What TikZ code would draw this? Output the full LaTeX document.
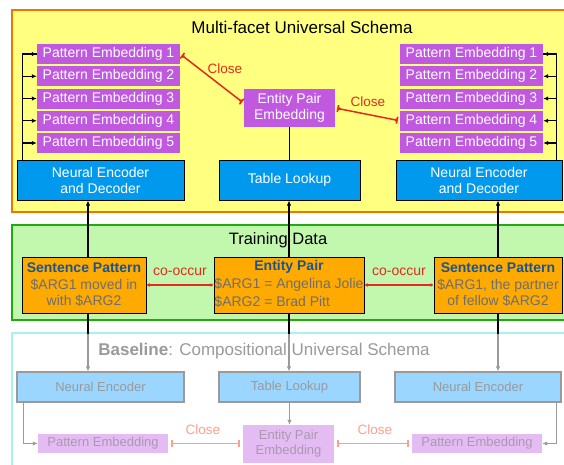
\documentclass[tikz,border=0pt]{standalone}
\usepackage{fontspec}
\setmainfont{Liberation Sans}
\usetikzlibrary{arrows.meta}

\definecolor{frameorange}{HTML}{EE7700}
\definecolor{frameyellow}{HTML}{FFFF80}
\definecolor{framegreen}{HTML}{22AA11}
\definecolor{fillgreen}{HTML}{C2F7AE}
\definecolor{framecyan}{HTML}{A6F3EC}
\definecolor{embpurple}{HTML}{C058E0}
\definecolor{encblue}{HTML}{0099EE}
\definecolor{boxorange}{HTML}{FFAA00}
\definecolor{titleblue}{HTML}{1A5590}
\definecolor{argray}{HTML}{6E6E6E}
\definecolor{closered}{HTML}{E8281E}
\definecolor{lightblue}{HTML}{9AD6FF}
\definecolor{lightpurple}{HTML}{E4BCF3}
\definecolor{basegray}{HTML}{9A9A9A}
\definecolor{pinkgray}{HTML}{A89AAE}
\definecolor{salmon}{HTML}{FFA08C}

\tikzset{
  >={Latex[length=5pt,width=4.5pt]},
  sectiontitle/.style={font=\fontsize{17}{19}\selectfont, inner sep=0pt},
  pattern/.style={fill=embpurple, text=white, font=\fontsize{14}{16}\selectfont,
    minimum width=143pt, minimum height=20pt, inner sep=0pt, align=center},
  encoder/.style={fill=encblue, draw=black, line width=1pt, text=white,
    font=\fontsize{14}{16}\selectfont, minimum width=167pt, minimum height=40pt,
    inner sep=0pt, align=center},
  sentence/.style={fill=boxorange, draw=black, line width=1pt, text=argray,
    font=\fontsize{14}{16.5}\selectfont, minimum height=56pt, inner sep=0pt, align=center},
  closeline/.style={draw=closered, line width=1.5pt, shorten <=2pt, shorten >=2pt,
    {Bar[width=7pt]Triangle[reversed,length=2pt,width=4pt]}-{Triangle[reversed,length=2pt,width=4pt]Bar[width=7pt]}},
  closelabel/.style={text=closered, font=\fontsize{13.5}{15}\selectfont, inner sep=0pt},
  cooccur/.style={draw=closered, line width=1.5pt,
    {Latex[length=3pt,width=4pt]}-{Latex[length=3pt,width=4pt]}},
  basebox/.style={fill=lightblue, draw=basegray, line width=1.2pt, text=basegray,
    font=\fontsize{13}{15}\selectfont, minimum width=167pt, minimum height=30pt, inner sep=0pt},
  baseemb/.style={fill=lightpurple, text=pinkgray, font=\fontsize{13}{15}\selectfont,
    minimum width=130pt, minimum height=19pt, inner sep=0pt, align=center},
  baseclose/.style={draw=salmon, line width=1.5pt, shorten <=3pt, shorten >=3pt,
    {Bar[width=7pt]}-{Bar[width=7pt]}},
  baselabel/.style={text=salmon, font=\fontsize{13.5}{15}\selectfont, inner sep=0pt},
  basearrow/.style={draw=basegray, line width=1.2pt, ->, >={Latex[length=5pt,width=4.5pt]}},
}

\begin{document}
\begin{tikzpicture}[x=1pt, y=-1pt]
  \useasboundingbox (0,0) rectangle (564,464);

  % frames
  \draw[frameorange, fill=frameyellow, line width=2.5pt] (12,10) rectangle (580,212);
  \draw[framegreen, fill=fillgreen, line width=2.5pt] (12,225) rectangle (580,320);
  \draw[framecyan, fill=white, line width=2.5pt] (12,333) rectangle (580,480);

  % multi-facet universal schema
  \node[sectiontitle] (mtitle) at (302,27) {Multi-facet Universal Schema};
  \foreach \i/\y in {1/54, 2/76.25, 3/98.5, 4/120.75, 5/143} {
    \node[pattern] (pl\i) at (108.5,\y) {Pattern Embedding \i};
    \node[pattern] (pr\i) at (471.5,\y) {Pattern Embedding \i};
  }
  \node[pattern, minimum width=91pt, minimum height=38pt] (epe) at (289.5,108) {Entity Pair\\Embedding};
  \node[encoder] (encl) at (100.5,180) {Neural Encoder\\and Decoder};
  \node[encoder, minimum width=141pt] (tl) at (289.5,180) {Table Lookup};
  \node[encoder, minimum width=166pt] (encr) at (479,180) {Neural Encoder\\and Decoder};

  \draw[line width=1.2pt] ([xshift=6pt]encl.north west) |- (pl1.west);
  \draw[line width=1.2pt] ([xshift=-6pt]encr.north east) |- (pr1.east);
  \foreach \i in {1,...,5} {
    \draw[line width=1.2pt, ->] ([xshift=6pt]encl.north west |- pl\i.west) -- (pl\i.west);
    \draw[line width=1.2pt, ->] ([xshift=-6pt]encr.north east |- pr\i.east) -- (pr\i.east);
  }
  \draw[line width=1.2pt] (epe.south) -- (epe.south |- tl.north);

  \draw[closeline] (pl1.east) -- (epe.174);
  \draw[closeline] (epe.east) -- (pr4.west);
  \node[closelabel] at (225,69) {Close};
  \node[closelabel] at (368,102) {Close};

  % training data
  \node[sectiontitle, font=\fontsize{16.5}{18}\selectfont] (ttitle) at (278,240) {Training Data};
  \node[sentence, minimum width=124pt] (spl) at (84,285)
    {\textcolor{titleblue}{\textbf{Sentence Pattern}}\\\$ARG1 moved in\\with \$ARG2};
  \node[sentence, minimum width=150pt] (ep) at (289,285)
    {\begin{tabular}{@{}l@{}}\multicolumn{1}{@{}c@{}}{\textcolor{titleblue}{\textbf{Entity Pair}}}\\[1.5pt]
     \$ARG1 = Angelina Jolie\\[1.5pt] \$ARG2 = Brad Pitt\end{tabular}};
  \node[sentence, minimum width=128pt] (spr) at (498,285)
    {\textcolor{titleblue}{\textbf{Sentence Pattern}}\\\$ARG1, the partner\\of fellow \$ARG2};

  \draw[line width=1.2pt, ->] ([xshift=4pt]spl.north) -- ([xshift=4pt]spl.north |- encl.south);
  \draw[line width=1.2pt, ->] (ep.north) -- (ep.north |- tl.south);
  \draw[line width=1.2pt, ->] (spr.north) -- (spr.north |- encr.south);

  \draw[cooccur] (spl.east) -- (ep.west);
  \draw[cooccur] (ep.east) -- (spr.west);
  \node[closelabel, font=\fontsize{14}{16}\selectfont] at (180,272) {co-occur};
  \node[closelabel, font=\fontsize{14}{16}\selectfont] at (399,272) {co-occur};

  % baseline
  \node[sectiontitle, text=basegray] (btitle) at (264,351) {\textbf{Baseline}: Compositional Universal Schema};
  \node[basebox] (bnel) at (100.5,387) {Neural Encoder};
  \node[basebox, minimum width=141pt] (btl) at (289.5,387) {Table Lookup};
  \node[basebox, minimum width=166pt] (bner) at (478,387) {Neural Encoder};
  \node[baseemb, minimum width=91pt, minimum height=38pt] (bepe) at (288.5,444) {Entity Pair\\Embedding};
  \node[baseemb] (bpel) at (103,443.5) {Pattern Embedding};
  \node[baseemb] (bper) at (477,443.5) {Pattern Embedding};

  \draw[basearrow] ([xshift=4pt]spl.south) -- ([xshift=4pt]spl.south |- bnel.north);
  \draw[basearrow] (ep.south) -- (ep.south |- btl.north);
  \draw[basearrow] (spr.south) -- (spr.south |- bner.north);
  \draw[line width=1.2pt] ([xshift=4pt]spl.south) -- ++(0,20);
  \draw[line width=1.2pt] (ep.south) -- ++(0,20);
  \draw[line width=1.2pt] (spr.south) -- ++(0,20);

  \draw[basearrow] (btl.south) -- (btl.south |- bepe.north);
  \draw[basearrow] ([xshift=7pt]bnel.south west) |- (bpel.west);
  \draw[basearrow] ([xshift=-5pt]bner.south east) |- (bper.east);

  \draw[baseclose] (bpel.east) -- (bepe.west |- bpel.east);
  \draw[baseclose] (bepe.east |- bper.west) -- (bper.west);
  \node[baselabel] at (203,430) {Close};
  \node[baselabel] at (375,430) {Close};

\end{tikzpicture}
\end{document}
